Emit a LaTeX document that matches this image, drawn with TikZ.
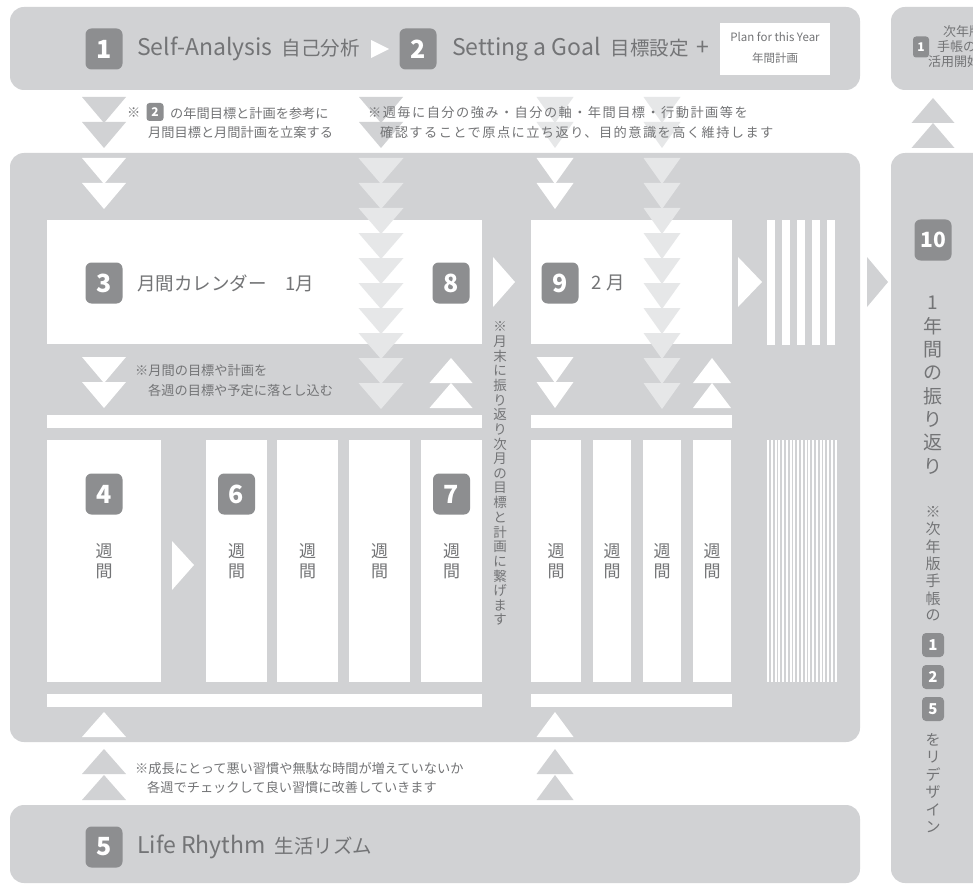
\documentclass[tikz,border=0pt]{standalone}
\usepackage{fontspec}
\setmainfont{Noto Sans CJK JP}
\newfontfamily\jpls{Noto Sans CJK JP}[LetterSpace=11]
\definecolor{panel}{HTML}{D1D2D4}
\definecolor{badgec}{HTML}{8D8E90}
\definecolor{txtc}{HTML}{737476}
\definecolor{litec}{HTML}{E6E7E8}
\newcommand\dtri[5]{\fill[#5] ({#1-#3/2},#2) -- ({#1+#3/2},#2) -- (#1,{#2+#4}) -- cycle;}
\newcommand\utri[5]{\fill[#5] ({#1-#3/2},{#2+#4}) -- ({#1+#3/2},{#2+#4}) -- (#1,#2) -- cycle;}
\tikzset{
 panelbox/.style={fill=panel, rounded corners=14pt},
 badgebox/.style={rectangle, fill=badgec, rounded corners=6pt, minimum width=37pt, minimum height=41pt, inner sep=0pt, text=white, font=\bfseries\fontsize{25}{25}\selectfont},
 minibadge/.style={rectangle, fill=badgec, rounded corners=4pt, minimum width=22pt, minimum height=24pt, inner sep=0pt, text=white, font=\bfseries\fontsize{15}{15}\selectfont},
 tinybadge/.style={rectangle, fill=badgec, rounded corners=3pt, minimum width=17pt, minimum height=18pt, inner sep=0pt, text=white, font=\bfseries\fontsize{12}{12}\selectfont},
 lbl/.style={text=txtc, inner sep=0pt},
 note/.style={lbl, anchor=west, font=\fontsize{13.2}{13.2}\selectfont},
 wide/.style={lbl, anchor=west, font=\jpls\fontsize{13.2}{13.2}\selectfont},
 wk/.style={lbl, align=center, font=\fontsize{17}{20}\selectfont},
 vchar/.style={lbl, font=\fontsize{13.5}{13.5}\selectfont},
 bigv/.style={lbl, font=\fontsize{19}{19}\selectfont},
 smallv/.style={lbl, font=\fontsize{15}{15}\selectfont},
}
\newcommand\latinbig{\fontsize{23}{23}\selectfont}
\newcommand\jpbig{\fontsize{19.5}{19.5}\selectfont}
\begin{document}
\begin{tikzpicture}[x=1pt,y=-1pt]
\useasboundingbox (0,0) rectangle (973,885);
\clip (0,0) rectangle (973,885);
\fill[white] (0,0) rectangle (973,885);
% panels
\fill[panelbox] (10,7) rectangle (860,90);
\fill[panelbox] (891,7) rectangle (1010,90);
\fill[panelbox] (10,153) rectangle (860,742);
\fill[panelbox] (891,153) rectangle (1010,883);
\fill[panelbox] (10,805) rectangle (860,883);
% calendar boxes
\fill[white] (47,220) rectangle (482,344);
\fill[white] (531,220) rectangle (732,344);
% week strips
\fill[white] (47,415) rectangle (482,428);
\fill[white] (531,415) rectangle (732,428);
\fill[white] (47,694) rectangle (482,707);
\fill[white] (531,694) rectangle (732,707);
% week columns month 1
\fill[white] (47,440) rectangle (161,682);
\fill[white] (206,440) rectangle (267,682);
\fill[white] (277,440) rectangle (338,682);
\fill[white] (349,440) rectangle (410,682);
\fill[white] (421,440) rectangle (482,682);
% week columns month 2
\fill[white] (531,440) rectangle (581,682);
\fill[white] (593,440) rectangle (631,682);
\fill[white] (643,440) rectangle (681,682);
\fill[white] (693,440) rectangle (731,682);
% thick stripes
\foreach \k in {0,...,4} {\fill[white] ({767+15*\k},220) rectangle ({775+15*\k},345);}
% thin stripes
\foreach \k in {0,...,18} {\fill[white] ({767+3.75*\k},440) rectangle ({769+3.75*\k},682);}
% right-pointing triangles
\fill[white] (371,40) -- (389,49) -- (371,58) -- cycle;
\fill[white] (493,257) -- (515,282) -- (493,307) -- cycle;
\fill[white] (738,257) -- (762,282) -- (738,307) -- cycle;
\fill[panel] (867,257) -- (888,282) -- (867,307) -- cycle;
\fill[white] (172,541) -- (194,565) -- (172,590) -- cycle;
% column A
\dtri{104}{97}{44}{26}{panel}\dtri{104}{122}{44}{26}{panel}
\dtri{104}{158}{44}{26}{white}\dtri{104}{183}{44}{26}{white}
\dtri{104}{357}{44}{26}{white}\dtri{104}{382}{44}{26}{white}
\utri{104}{712}{44}{25}{white}
\utri{104}{749}{44}{25}{panel}\utri{104}{775}{44}{25}{panel}
% column B
\dtri{381}{97}{44}{26}{panel}\dtri{381}{122}{44}{26}{panel}
\foreach \k in {0,...,9} {\dtri{381}{158+25*\k}{45}{26}{litec}}
% column C
\dtri{555}{97}{37}{26}{litec}\dtri{555}{122}{37}{26}{litec}
\dtri{555}{158}{37}{26}{white}\dtri{555}{183}{37}{26}{white}
\dtri{555}{357}{37}{26}{white}\dtri{555}{382}{37}{26}{white}
\utri{555}{712}{37}{25}{white}
\utri{555}{749}{37}{25}{panel}\utri{555}{775}{37}{25}{panel}
% column D
\dtri{662}{97}{37}{26}{litec}\dtri{662}{122}{37}{26}{litec}
\foreach \k in {0,...,9} {\dtri{662}{158+25*\k}{37}{26}{litec}}
% column E, F
\utri{451}{358}{43}{25}{white}\utri{451}{383}{43}{25}{white}
\utri{712}{358}{38}{25}{white}\utri{712}{383}{38}{25}{white}
% column G
\utri{933}{98}{43}{25}{panel}\utri{933}{123}{43}{25}{panel}
% top bar
\node[badgebox] (b1) at (104,49) {1};
\node[lbl, anchor=west] (t1) at (137,49) {\latinbig Self-Analysis\hspace{9pt}\jpbig 自己分析};
\node[badgebox] (b2) at (418,49) {2};
\node[lbl, anchor=west] (t2) at (452,49) {\latinbig Setting a Goal\hspace{10pt}\jpbig 目標設定\hspace{8pt}\latinbig +};
\node[rectangle, fill=white, minimum width=110pt, minimum height=52pt, inner sep=0pt] (plan) at (775,49) {};
\node[lbl, font=\fontsize{11.5}{11.5}\selectfont] (plan1) at (775,37) {Plan for this Year};
\node[lbl, font=\fontsize{11.5}{11.5}\selectfont] (plan2) at (775,58) {年間計画};
% top right box
\node[rectangle, fill=badgec, rounded corners=3pt, minimum width=16pt, minimum height=21pt, inner sep=0pt, text=white, font=\bfseries\fontsize{12}{12}\selectfont] (b1s) at (921,47) {1};
\node[lbl, anchor=west, font=\fontsize{13}{13}\selectfont] (nx1) at (943,32) {次年版};
\node[lbl, anchor=west, font=\fontsize{13}{13}\selectfont] (nx2) at (937,47) {手帳の};
\node[lbl, anchor=west, font=\fontsize{13}{13}\selectfont] (nx3) at (928,62) {活用開始};
% note 1
\node[note] (n1a) at (127,113) {※};
\node[tinybadge] (n1b) at (155,112) {2};
\node[note] (n1c) at (170,113) {の年間目標と計画を参考に};
\node[note] (n1d) at (148,132) {月間目標と月間計画を立案する};
% note 2
\node[wide] (n2a) at (368,113) {※週毎に自分の強み・自分の軸・年間目標・行動計画等を};
\node[wide] (n2b) at (380,132) {確認することで原点に立ち返り、目的意識を高く維持します};
% calendars
\node[badgebox] (b3) at (104,283) {3};
\node[lbl, anchor=west, font=\fontsize{18.5}{18.5}\selectfont] (t3) at (137,283) {月間カレンダー　1月};
\node[badgebox] (b8) at (451,283) {8};
\node[badgebox] (b9) at (560,283) {9};
\node[lbl, anchor=west, font=\fontsize{18.5}{18.5}\selectfont] (t9) at (591,283) {2\hspace{5pt}月};
% note 3
\node[note] (n3a) at (135,370) {※月間の目標や計画を};
\node[note] (n3b) at (148,390) {各週の目標や予定に落とし込む};
% vertical note
\foreach \c [count=\i] in {※,月,末,に,振,り,返,り,次,月,の,目,標,と,計,画,に,繋,げ,ま,す}
 {\node[vchar] (m\i) at (500,{327+14.65*(\i-1)}) {\c};}
% weeks
\node[badgebox] (b4) at (104,494) {4};
\node[badgebox] (b6) at (236.5,494) {6};
\node[badgebox] (b7) at (451.5,494) {7};
\foreach \cx [count=\i] in {104,236.5,307.5,379.5,451.5,556,612,662,712}
 {\node[wk] (w\i) at (\cx,561) {週\\間};}
% note 4
\node[note] (n4a) at (135,768) {※成長にとって悪い習慣や無駄な時間が増えていないか};
\node[note] (n4b) at (147,787) {各週でチェックして良い習慣に改善していきます};
% bottom bar
\node[badgebox] (b5) at (104,847) {5};
\node[lbl, anchor=west] (t5) at (137,847) {\latinbig Life Rhythm\hspace{9pt}\jpbig 生活リズム};
% right panel
\node[badgebox, font=\bfseries\fontsize{21}{21}\selectfont] (b10) at (933,240) {10};
\foreach \c [count=\i] in {1,年,間,の,振,り,返,り}
 {\node[bigv] (r\i) at (933,{303+23.3*(\i-1)}) {\c};}
\foreach \c [count=\i] in {※,次,年,版,手,帳,の}
 {\node[smallv] (s\i) at (933,{512+17.3*(\i-1)}) {\c};}
\node[minibadge] (rb1) at (933,645) {1};
\node[minibadge] (rb2) at (933,677) {2};
\node[minibadge] (rb5) at (933,709) {5};
\foreach \c [count=\i] in {を,リ,デ,ザ,イ,ン}
 {\node[smallv] (d\i) at (933,{740+17.4*(\i-1)}) {\c};}
\end{tikzpicture}
\end{document}
